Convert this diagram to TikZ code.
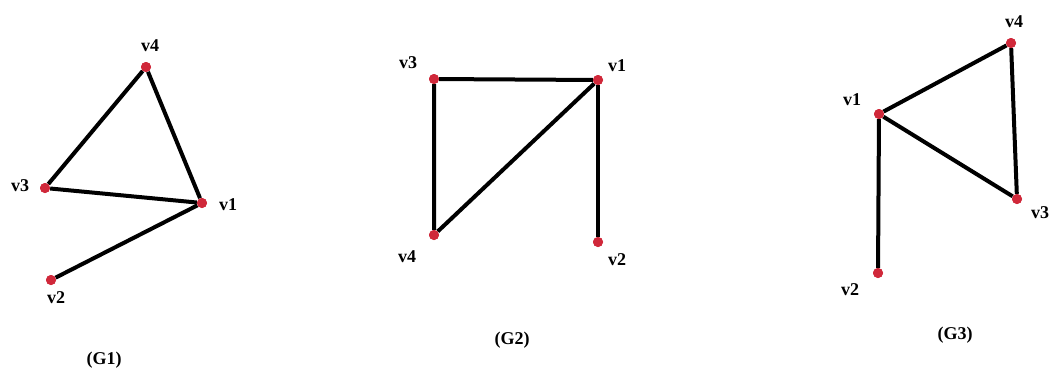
\documentclass[tikz,border=0pt]{standalone}
\usepackage{fontspec}
\setmainfont{Liberation Serif}
\definecolor{dotred}{HTML}{D0283A}
\begin{document}
\begin{tikzpicture}[x=1pt,y=-1pt,
  vtx/.style={circle,fill=dotred,draw=none,inner sep=0pt,minimum size=10pt},
  edge/.style={draw=black,line width=4pt},
  lbl/.style={font=\bfseries\fontsize{18}{20}\selectfont,inner sep=0pt},
  gcaption/.style={font=\bfseries\fontsize{18}{20}\selectfont,inner sep=0pt}]
\useasboundingbox[fill=white] (0,0) rectangle (1051,376);
% G1
\node[vtx] (a4) at (146,67) {};
\node[vtx] (a3) at (45,188) {};
\node[vtx] (a1) at (202,203) {};
\node[vtx] (a2) at (51,280) {};
\draw[edge] (a3) -- (a4) -- (a1) -- (a3);
\draw[edge] (a1) -- (a2);
\node[vtx] at (a4) {};
\node[vtx] at (a3) {};
\node[vtx] at (a1) {};
\node[vtx] at (a2) {};
\node[lbl] (la4) at (150,46) {v4};
\node[lbl] (la3) at (20,186) {v3};
\node[lbl] (la1) at (228,205) {v1};
\node[lbl] (la2) at (56,298) {v2};
\node[gcaption] (g1) at (104,360) {(G1)};
% G2
\node[vtx] (b3) at (434,79) {};
\node[vtx] (b1) at (598,80) {};
\node[vtx] (b4) at (434,235) {};
\node[vtx] (b2) at (598,242) {};
\draw[edge] (b4) -- (b3) -- (b1) -- (b4);
\draw[edge] (b1) -- (b2);
\node[vtx] at (b3) {};
\node[vtx] at (b1) {};
\node[vtx] at (b4) {};
\node[vtx] at (b2) {};
\node[lbl] (lb3) at (408,63) {v3};
\node[lbl] (lb1) at (617,66) {v1};
\node[lbl] (lb4) at (407,257) {v4};
\node[lbl] (lb2) at (617,260) {v2};
\node[gcaption] (g2) at (512,340) {(G2)};
% G3
\node[vtx] (c4) at (1011,43) {};
\node[vtx] (c1) at (879,114) {};
\node[vtx] (c3) at (1017,199) {};
\node[vtx] (c2) at (878,273) {};
\draw[edge] (c1) -- (c4) -- (c3) -- (c1);
\draw[edge] (c1) -- (c2);
\node[vtx] at (c4) {};
\node[vtx] at (c1) {};
\node[vtx] at (c3) {};
\node[vtx] at (c2) {};
\node[lbl] (lc4) at (1014,22) {v4};
\node[lbl] (lc1) at (852,100) {v1};
\node[lbl] (lc3) at (1040,213) {v3};
\node[lbl] (lc2) at (850,290) {v2};
\node[gcaption] (g3) at (955,335) {(G3)};
\end{tikzpicture}
\end{document}
